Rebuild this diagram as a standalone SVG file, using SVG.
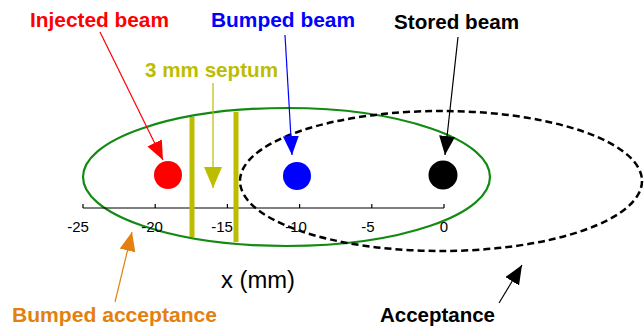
<svg xmlns="http://www.w3.org/2000/svg" width="644" height="329" viewBox="0 0 644 329">
<style>
.lbl{font-family:"Liberation Sans",Arial,sans-serif;font-weight:bold;font-size:21px}
.tick{font-family:"Liberation Sans",Arial,sans-serif;font-size:15px;fill:#000}
.ax{stroke:#000;stroke-width:1.2;fill:none}
.ln{fill:none;stroke-width:1.2}
</style>
<defs>
<marker id="mRed" markerUnits="userSpaceOnUse" markerWidth="20" markerHeight="18" refX="19" refY="8" orient="auto"><path d="M0,0 L19,8 L0,16 z" fill="#ff0000"/></marker>
<marker id="mBlue" markerUnits="userSpaceOnUse" markerWidth="20" markerHeight="18" refX="19" refY="8" orient="auto"><path d="M0,0 L19,8 L0,16 z" fill="#0000ff"/></marker>
<marker id="mBlack" markerUnits="userSpaceOnUse" markerWidth="20" markerHeight="18" refX="19" refY="8" orient="auto"><path d="M0,0 L19,8 L0,16 z" fill="#000"/></marker>
<marker id="mOlive" markerUnits="userSpaceOnUse" markerWidth="22" markerHeight="20" refX="21" refY="9" orient="auto"><path d="M0,0 L21,9 L0,18 z" fill="#bdbd00"/></marker>
<marker id="mOrange" markerUnits="userSpaceOnUse" markerWidth="20" markerHeight="18" refX="19" refY="8" orient="auto"><path d="M0,0 L19,8 L0,16 z" fill="#e3800e"/></marker>
</defs>

<g id="bumped-acceptance-ellipse">
<ellipse cx="286.5" cy="177" rx="203.5" ry="69" fill="none" stroke="#138a13" stroke-width="2.2"/>
</g>
<g id="acceptance-ellipse">
<ellipse cx="441" cy="181" rx="201" ry="70" fill="none" stroke="#000" stroke-width="2.5" stroke-dasharray="7,4"/>
</g>

<g id="axis">
<line class="ax" x1="83" y1="208" x2="444" y2="208"/>
<path class="ax" d="M83,204V208M155.2,204V208M227.4,204V208M299.6,204V208M371.8,204V208M444,204V208"/>
<text class="tick" x="78" y="232" text-anchor="middle">-25</text>
<text class="tick" x="152" y="232" text-anchor="middle">-20</text>
<text class="tick" x="222" y="232" text-anchor="middle">-15</text>
<text class="tick" x="296" y="232" text-anchor="middle">-10</text>
<text class="tick" x="368" y="232" text-anchor="middle">-5</text>
<text class="tick" x="444" y="232" text-anchor="middle">0</text>
<text x="221" y="288" font-family="Liberation Sans, Arial, sans-serif" font-size="23" textLength="74" lengthAdjust="spacingAndGlyphs">x (mm)</text>
</g>

<g id="septum">
<rect x="189.5" y="117" width="5" height="120" fill="#bdbd00"/>
<rect x="233.5" y="112" width="5" height="130" fill="#bdbd00"/>
</g>

<g id="injected-beam"><circle cx="168" cy="175" r="14" fill="#ff0000"/></g>
<g id="bumped-beam"><circle cx="297" cy="176" r="14" fill="#0000ff"/></g>
<g id="stored-beam"><circle cx="443" cy="175" r="14.5" fill="#000"/></g>

<g id="connectors">
<line class="ln" x1="100" y1="32" x2="163" y2="160" stroke="#ff0000" marker-end="url(#mRed)"/>
<line class="ln" x1="285" y1="35" x2="292" y2="155" stroke="#0000ff" marker-end="url(#mBlue)"/>
<line class="ln" x1="458" y1="37" x2="445" y2="155" stroke="#000" marker-end="url(#mBlack)"/>
<line class="ln" x1="213" y1="83" x2="213" y2="188" stroke="#bdbd00" marker-end="url(#mOlive)"/>
<line class="ln" x1="115" y1="302" x2="132" y2="232" stroke="#e3800e" marker-end="url(#mOrange)"/>
<line class="ln" x1="499" y1="303" x2="522" y2="265" stroke="#000" marker-end="url(#mBlack)"/>
</g>

<g id="labels">
<text class="lbl" x="30" y="27" fill="#ff0000" textLength="139" lengthAdjust="spacingAndGlyphs">Injected beam</text>
<text class="lbl" x="211" y="27" fill="#0000ff" textLength="144" lengthAdjust="spacingAndGlyphs">Bumped beam</text>
<text class="lbl" x="394" y="29" fill="#000" textLength="125" lengthAdjust="spacingAndGlyphs">Stored beam</text>
<text class="lbl" x="145" y="77" fill="#bdbd00" textLength="133" lengthAdjust="spacingAndGlyphs">3 mm septum</text>
<text class="lbl" x="12" y="322" fill="#e3800e" textLength="205" lengthAdjust="spacingAndGlyphs">Bumped acceptance</text>
<text class="lbl" x="380" y="322" fill="#000" textLength="115" lengthAdjust="spacingAndGlyphs">Acceptance</text>
</g>
</svg>
